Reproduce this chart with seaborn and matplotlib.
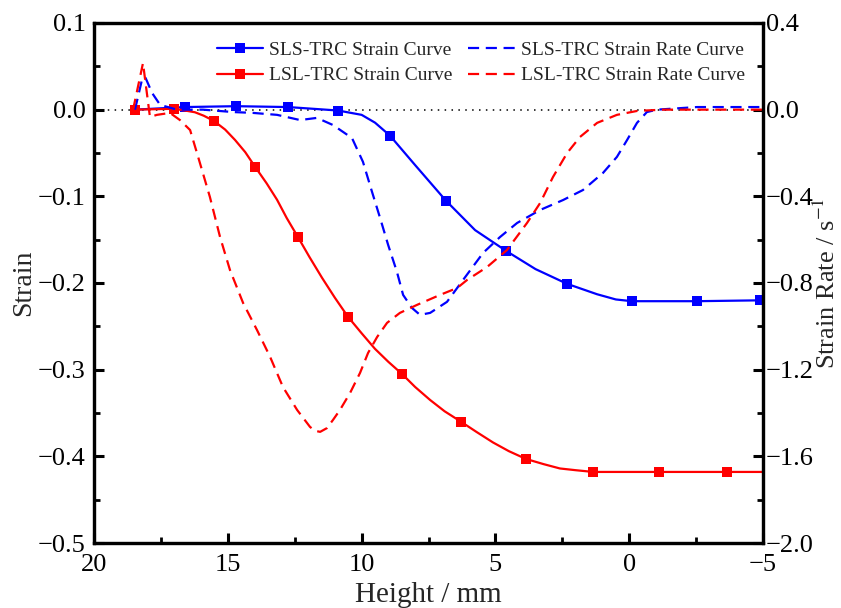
import numpy as np
import pandas as pd
import matplotlib
matplotlib.use("Agg")
import matplotlib.pyplot as plt
from matplotlib.ticker import MultipleLocator, FuncFormatter
import seaborn as sns

# ---------------- data ----------------
sls_strain_x = [18.47, 16.60, 14.69, 12.75, 10.88, 10.0, 9.5, 8.94, 8.0, 6.85, 5.76, 4.60, 3.5, 2.32, 1.2, 0.5, -0.10, -2.53, -4.89, -5.0]
sls_strain_y = [0.0, 0.003, 0.004, 0.003, -0.001, -0.006, -0.015, -0.030, -0.064, -0.105, -0.139, -0.163, -0.184, -0.201, -0.213, -0.219, -0.221, -0.221, -0.220, -0.220]
sls_marks = [0, 1, 2, 3, 4, 7, 9, 11, 13, 16, 17, 18]

lsl_strain_x = [18.47, 17.01, 16.6, 16.23, 15.9, 15.52, 15.1, 14.73, 14.35, 13.98, 13.55, 13.16, 12.8, 12.38, 11.95, 11.48, 11.0, 10.51, 10.0, 9.50, 9.0, 8.49, 8.0, 7.44, 6.9, 6.29, 5.7, 5.09, 4.5, 3.86, 3.2, 2.59, 2.0, 1.35, -1.11, -3.65, -5.0]
lsl_strain_y = [0.0, 0.001, -0.001, -0.003, -0.007, -0.013, -0.023, -0.035, -0.049, -0.066, -0.085, -0.104, -0.125, -0.147, -0.170, -0.194, -0.217, -0.239, -0.258, -0.276, -0.291, -0.305, -0.320, -0.335, -0.348, -0.360, -0.372, -0.384, -0.394, -0.403, -0.409, -0.414, -0.416, -0.418, -0.418, -0.418, -0.418]
lsl_marks = [0, 1, 5, 9, 13, 17, 21, 25, 29, 33, 34, 35]

sls_rate_x = [18.47, 18.21, 18.09, 17.83, 17.53, 16.90, 15.93, 14.81, 14.06, 13.16, 12.30, 11.67, 11.07, 10.36, 9.95, 9.61, 9.31, 9.01, 8.68, 8.45, 8.12, 7.82, 7.44, 6.81, 6.21, 5.46, 4.83, 4.19, 3.33, 2.47, 1.73, 0.98, 0.46, 0.08, -0.29, -0.66, -1.04, -2.53, -3.77, -5.0]
sls_rate_y = [0.0, 0.137, 0.151, 0.077, 0.022, 0.0, 0.0, -0.011, -0.015, -0.024, -0.048, -0.038, -0.071, -0.131, -0.241, -0.380, -0.500, -0.624, -0.749, -0.855, -0.915, -0.947, -0.938, -0.887, -0.786, -0.661, -0.588, -0.523, -0.463, -0.417, -0.371, -0.292, -0.218, -0.140, -0.061, -0.011, 0.0, 0.012, 0.012, 0.012]

lsl_rate_x = [18.54, 18.17, 17.91, 17.65, 17.16, 16.79, 16.41, 16.11, 15.67, 15.29, 14.92, 14.43, 13.91, 13.42, 12.94, 12.41, 11.93, 11.75, 11.55, 11.3, 11.07, 10.81, 10.43, 10.06, 9.76, 9.42, 9.05, 8.57, 7.93, 7.07, 6.43, 6.06, 5.31, 4.57, 3.82, 3.33, 2.85, 2.32, 1.84, 1.20, 0.46, -0.29, -1.26, -5.0]
lsl_rate_y = [0.0, 0.215, -0.034, -0.024, -0.015, -0.048, -0.094, -0.218, -0.403, -0.588, -0.740, -0.892, -1.017, -1.141, -1.280, -1.386, -1.464, -1.482, -1.487, -1.470, -1.432, -1.386, -1.307, -1.215, -1.123, -1.049, -0.984, -0.938, -0.901, -0.855, -0.823, -0.786, -0.726, -0.648, -0.523, -0.431, -0.311, -0.200, -0.126, -0.061, -0.024, -0.006, 0.0, 0.0]

labels = ["SLS-TRC Strain Curve", "LSL-TRC Strain Curve",
          "SLS-TRC Strain Rate Curve", "LSL-TRC Strain Rate Curve"]

# ---------------- style ----------------
sns.set_theme(style="ticks")
plt.rcParams["font.family"] = ["Liberation Serif", "DejaVu Serif"]
plt.rcParams["mathtext.fontset"] = "stix"
plt.rcParams["axes.unicode_minus"] = True

BLUE = "#0000FF"
RED = "#FF0000"

fig = plt.figure(figsize=(8.41, 6.08), dpi=100)
ax = fig.add_axes([0.1118, 0.1069, 0.9073 - 0.1118, 0.9622 - 0.1069])
ax2 = ax.twinx()

lw = 1.6
sns.lineplot(x=sls_strain_x, y=sls_strain_y, ax=ax, sort=False, estimator=None,
             color=BLUE, lw=lw, marker="s", markersize=6.5, markeredgewidth=0,
             markevery=sls_marks, label=labels[0], legend=False)
sns.lineplot(x=lsl_strain_x, y=lsl_strain_y, ax=ax, sort=False, estimator=None,
             color=RED, lw=lw, marker="s", markersize=6.5, markeredgewidth=0,
             markevery=lsl_marks, label=labels[1], legend=False)
sns.lineplot(x=sls_rate_x, y=sls_rate_y, ax=ax2, sort=False, estimator=None,
             color=BLUE, lw=lw, label=labels[2], legend=False)
sns.lineplot(x=lsl_rate_x, y=lsl_rate_y, ax=ax2, sort=False, estimator=None,
             color=RED, lw=lw, label=labels[3], legend=False)
for ln in ax2.get_lines():
    ln.set_dashes((5, 3))

ax.axhline(0, color="black", lw=1.1, ls=(0, (1, 3.5)), zorder=0)

ax.set_xlim(20, -5)
ax.set_ylim(-0.5, 0.1)
ax2.set_ylim(-2.0, 0.4)

ax.xaxis.set_major_locator(MultipleLocator(5))
ax.xaxis.set_minor_locator(MultipleLocator(2.5))
ax.yaxis.set_major_locator(MultipleLocator(0.1))
ax.yaxis.set_minor_locator(MultipleLocator(0.05))
ax2.yaxis.set_major_locator(MultipleLocator(0.4))
ax2.yaxis.set_minor_locator(MultipleLocator(0.2))

def fmt1(v, pos):
    s = f"{v:.1f}"
    if s.startswith("-"):
        s = "\u2212" + s[1:]
    return s

def fmt0(v, pos):
    s = f"{v:.0f}"
    if s.startswith("-"):
        s = "\u2212" + s[1:]
    return s

ax.yaxis.set_major_formatter(FuncFormatter(fmt1))
ax2.yaxis.set_major_formatter(FuncFormatter(fmt1))
ax.xaxis.set_major_formatter(FuncFormatter(fmt0))

tick_fs = 19
for a in (ax, ax2):
    a.tick_params(which="major", direction="in", length=7, width=2.2, labelsize=tick_fs, colors="black")
    a.tick_params(which="minor", direction="in", length=4.5, width=2.0, colors="black")
    for sp in a.spines.values():
        sp.set_linewidth(2.3)
        sp.set_color("black")
ax.tick_params(axis="x", which="both", top=False, pad=8)
ax.tick_params(axis="y", which="both", right=False, pad=6)
ax2.tick_params(axis="y", which="both", left=False, pad=2)

ax.set_xlabel("Height / mm", fontsize=21, labelpad=4)
ax.set_ylabel("Strain", fontsize=20, labelpad=1)
ax2.set_ylabel("Strain Rate / s$^{-1}$", fontsize=19, labelpad=0)

handles = ax.get_lines()[:2] + ax2.get_lines()[:2]
leg = ax.legend(handles, labels, loc="upper right", bbox_to_anchor=(1.0, 1.0),
                ncol=2, frameon=False, fontsize=14, handlelength=2.4,
                handletextpad=0.3, columnspacing=0.8, labelspacing=0.4,
                borderaxespad=0.55)

fig.savefig("out.png", dpi=100)
